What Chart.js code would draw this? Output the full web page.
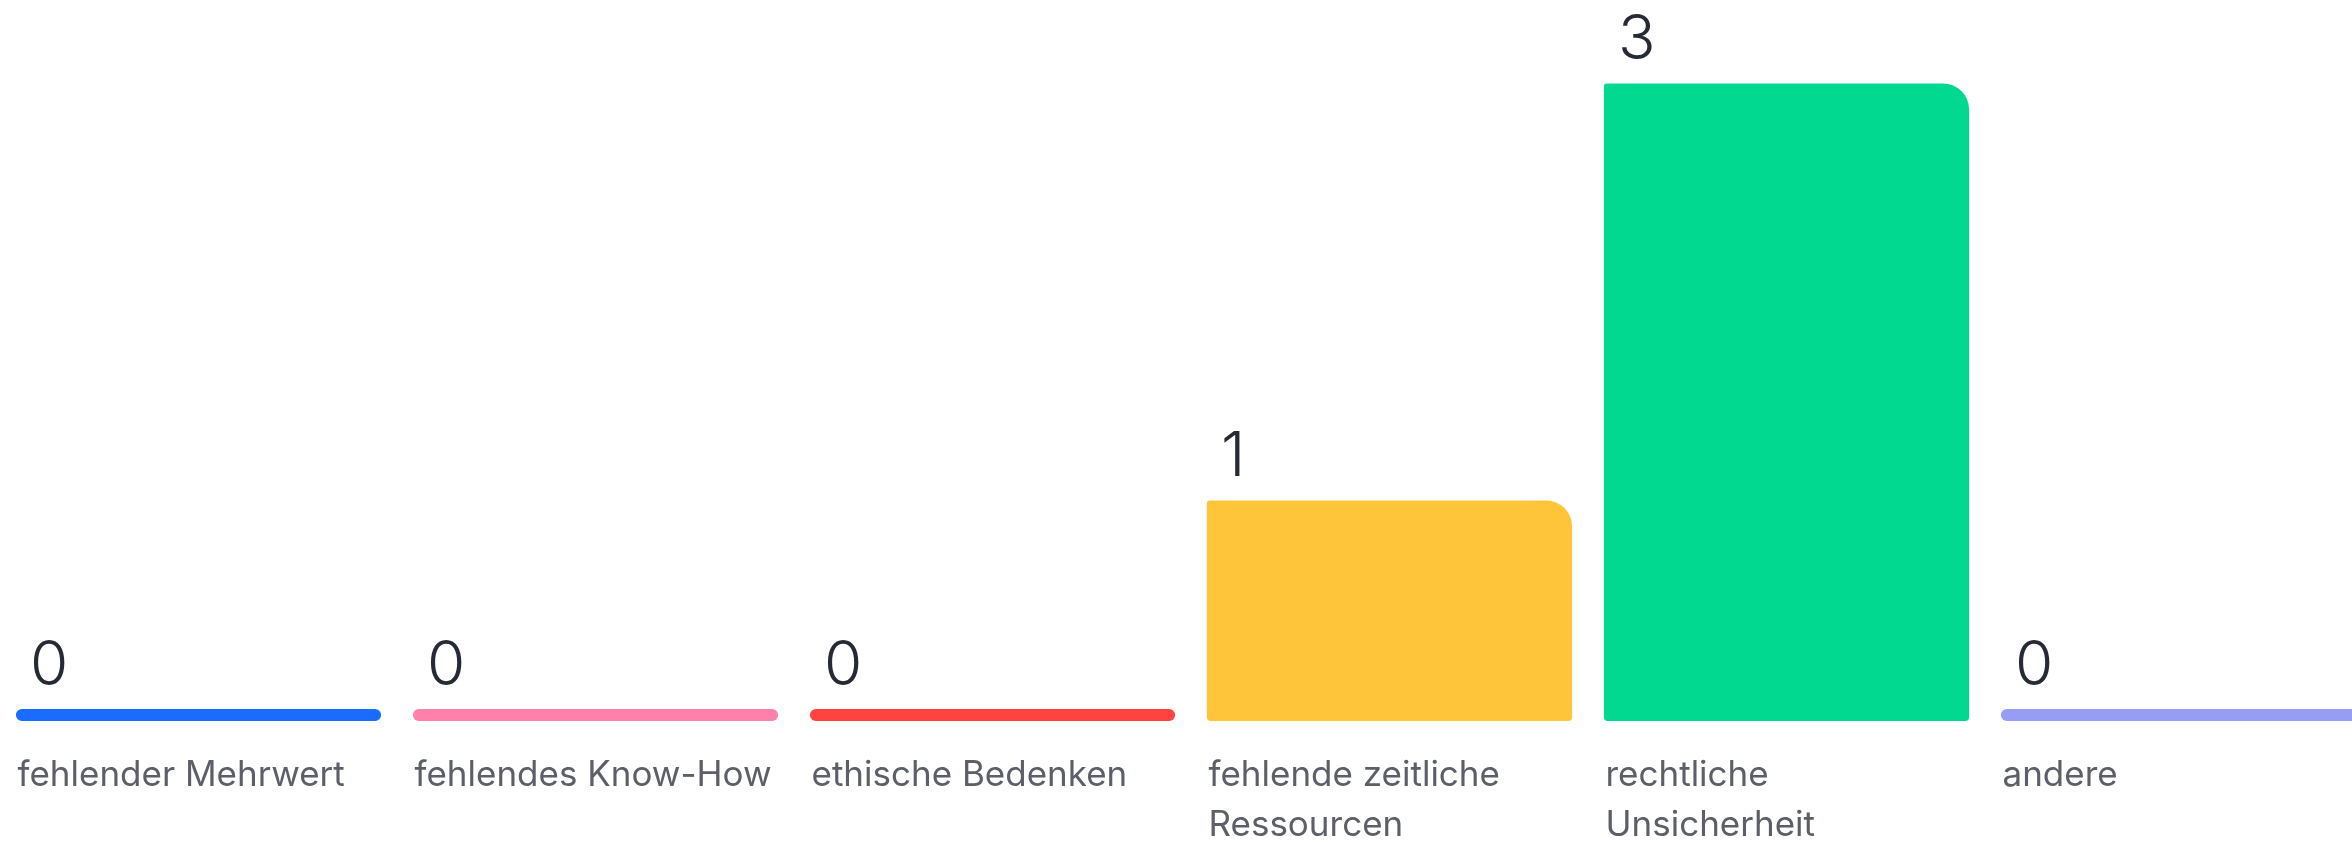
<!DOCTYPE html>
<html>
<head>
<meta charset="utf-8">
<script src="https://cdn.jsdelivr.net/npm/chart.js@4/dist/chart.umd.min.js"></script>
<style>
  html, body { margin: 0; padding: 0; background: #fff; overflow: hidden; }
  #wrap { width: 2382px; height: 879px; }
</style>
</head>
<body>
<div id="wrap"><canvas id="myChart" width="2382" height="879"></canvas></div>
<script>
const categories = [
  'fehlender Mehrwert',
  'fehlendes Know-How',
  'ethische Bedenken',
  ['fehlende zeitliche', 'Ressourcen'],
  ['rechtliche', 'Unsicherheit'],
  'andere'
];
const answers = [0, 0, 0, 1, 3, 0];
const barColors = ['#196cff', '#ff80ab', '#ff4340', '#ffc53a', '#00d98f', '#979cf5'];

// zero bars still get a thin stub, so every bar starts a bit below 0
const stub = -0.058;

const valueLabels = {
  id: 'valueLabels',
  afterDatasetsDraw(chart) {
    const ctx = chart.ctx;
    const meta = chart.getDatasetMeta(0);
    ctx.save();
    ctx.font = '300 62px Inter';
    ctx.fillStyle = '#262a35';
    ctx.textAlign = 'left';
    ctx.textBaseline = 'alphabetic';
    meta.data.forEach((bar, i) => {
      ctx.fillText(String(answers[i]), bar.x - bar.width / 2 + 14, bar.y - 24);
    });
    ctx.restore();
  }
};

const ctx = document.getElementById('myChart');

new Chart(ctx, {
  type: 'bar',
  data: {
    labels: categories,
    datasets: [{
      data: answers,
      base: stub,
      backgroundColor: barColors,
      borderWidth: 0,
      borderSkipped: false,
      borderRadius: (c) => {
        const v = c.raw;
        if (!v) return 6;
        return { topLeft: 3, topRight: 26, bottomLeft: 4, bottomRight: 4 };
      },
      barPercentage: 0.92,
      categoryPercentage: 1
    }]
  },
  options: {
    responsive: false,
    animation: false,
    layout: { padding: 0 },
    plugins: {
      legend: { display: false },
      tooltip: { enabled: false }
    },
    scales: {
      x: {
        grid: { display: false, drawTicks: false },
        border: { display: false },
        ticks: {
          align: 'start',
          labelOffset: -181,
          padding: 29,
          color: '#5c5f68',
          font: { family: 'Inter', size: 35, lineHeight: 50 / 35 },
          maxRotation: 0,
          autoSkip: false
        }
      },
      y: {
        display: false,
        min: stub,
        max: 3.4
      }
    }
  },
  plugins: [valueLabels]
});
</script>
</body>
</html>
